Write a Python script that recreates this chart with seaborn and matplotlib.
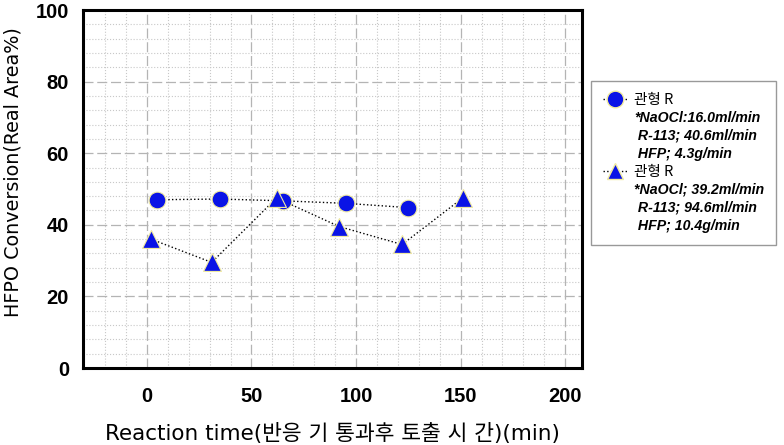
import pandas as pd
import matplotlib
matplotlib.use('Agg')
import matplotlib.pyplot as plt
import seaborn as sns
from matplotlib.lines import Line2D
from matplotlib.ticker import MultipleLocator

# series 1 (circles)
time_a = [5, 35, 65, 95, 125]
conv_a = [47.0, 47.2, 46.7, 46.0, 44.8]
# series 2 (triangles)
time_b = [2, 31, 62, 92, 122, 151]
conv_b = [36.0, 29.5, 47.5, 39.5, 34.5, 47.5]

legend_a = ['관형 R', '*NaOCl:16.0ml/min', ' R-113; 40.6ml/min', ' HFP; 4.3g/min']
legend_b = ['관형 R', '*NaOCl; 39.2ml/min', ' R-113; 94.6ml/min', ' HFP; 10.4g/min']

x_ticks = [0, 50, 100, 150, 200]
y_ticks = [0, 20, 40, 60, 80, 100]

df_a = pd.DataFrame({'time': time_a, 'conv': conv_a})
df_b = pd.DataFrame({'time': time_b, 'conv': conv_b})

sns.set_style('white')
plt.rcParams['font.family'] = ['Liberation Sans', 'Noto Sans CJK KR', 'DejaVu Sans']
plt.rcParams['text.color'] = 'black'
plt.rcParams['xtick.color'] = 'black'
plt.rcParams['ytick.color'] = 'black'
plt.rcParams['axes.labelcolor'] = 'black'

fig = plt.figure(figsize=(7.84, 4.45), dpi=100)
ax = fig.add_axes([83 / 784, 1 - 368 / 445, (582 - 83) / 784, (368 - 10) / 445])

blue = '#0a14e6'
edge = '#f2eca0'

# dotted connecting lines
sns.lineplot(data=df_a, x='time', y='conv', ax=ax, color='black', linestyle=':',
             linewidth=1.0, sort=False, zorder=2)
sns.lineplot(data=df_b, x='time', y='conv', ax=ax, color='black', linestyle=':',
             linewidth=1.0, sort=False, zorder=2)
# markers
sns.scatterplot(data=df_a, x='time', y='conv', ax=ax, marker='o', s=145,
                color=blue, edgecolor=edge, linewidth=0.8, zorder=3)
sns.scatterplot(data=df_b, x='time', y='conv', ax=ax, marker='^', s=165,
                color=blue, edgecolor=edge, linewidth=0.8, zorder=4)

ax.set_xlim(-30.5, 208)
ax.set_ylim(0, 100)
ax.set_xticks(x_ticks)
ax.set_yticks(y_ticks)
ax.xaxis.set_minor_locator(MultipleLocator(10))
ax.yaxis.set_minor_locator(MultipleLocator(4))
ax.tick_params(axis='both', which='both', direction='in', length=6, width=1,
               top=False, right=False, colors='black')
ax.tick_params(axis='y', which='major', labelsize=14.5, pad=10)
ax.tick_params(axis='x', which='major', labelsize=14.5, pad=14)
for lab in ax.get_xticklabels() + ax.get_yticklabels():
    lab.set_fontweight('bold')

ax.grid(True, which='major', color='#b4b4b4', linestyle=(0, (8, 3)), linewidth=0.9)
ax.grid(True, which='minor', color='#c8c8c8', linestyle=':', linewidth=0.8)
ax.set_axisbelow(True)
for sp in ax.spines.values():
    sp.set_color('black')
    sp.set_linewidth(2.2)

ax.set_xlabel('Reaction time(반응 기 통과후 토출 시 간)(min)', fontsize=15.5, labelpad=12,
              family=['DejaVu Sans', 'Noto Sans CJK KR'])
ax.set_ylabel('HFPO Conversion(Real Area%)', fontsize=13.8,
              family=['DejaVu Sans', 'Noto Sans CJK KR'])
ax.yaxis.set_label_coords(-0.122, 0.547)

# legend: marker entries plus condition lines
empty = Line2D([], [], color='none')
h_a = Line2D([], [], color='black', linestyle=':', linewidth=1.0, marker='o',
             markersize=12, markerfacecolor=blue, markeredgecolor=edge)
h_b = Line2D([], [], color='black', linestyle=':', linewidth=1.0, marker='^',
             markersize=12, markerfacecolor=blue, markeredgecolor=edge)
handles = [h_a] + [empty] * 3 + [h_b] + [empty] * 3
labels = legend_a + legend_b
leg = ax.legend(handles, labels, loc='upper left',
                bbox_to_anchor=(591 / 784, 1 - 81 / 445), bbox_transform=fig.transFigure,
                borderaxespad=0, fancybox=False, frameon=True, fontsize=10.2,
                handlelength=1.7, handletextpad=0.5, labelspacing=0.28,
                borderpad=0.85)
leg.get_frame().set_edgecolor('#808080')
leg.get_frame().set_linewidth(1.0)
for i, t in enumerate(leg.get_texts()):
    if i % 4 == 0:
        t.set_family(['Noto Sans CJK KR', 'DejaVu Sans'])
        t.set_fontsize(10.5)
    else:
        t.set_fontweight('bold')
        t.set_style('italic')

fig.savefig('out.png', dpi=100)
